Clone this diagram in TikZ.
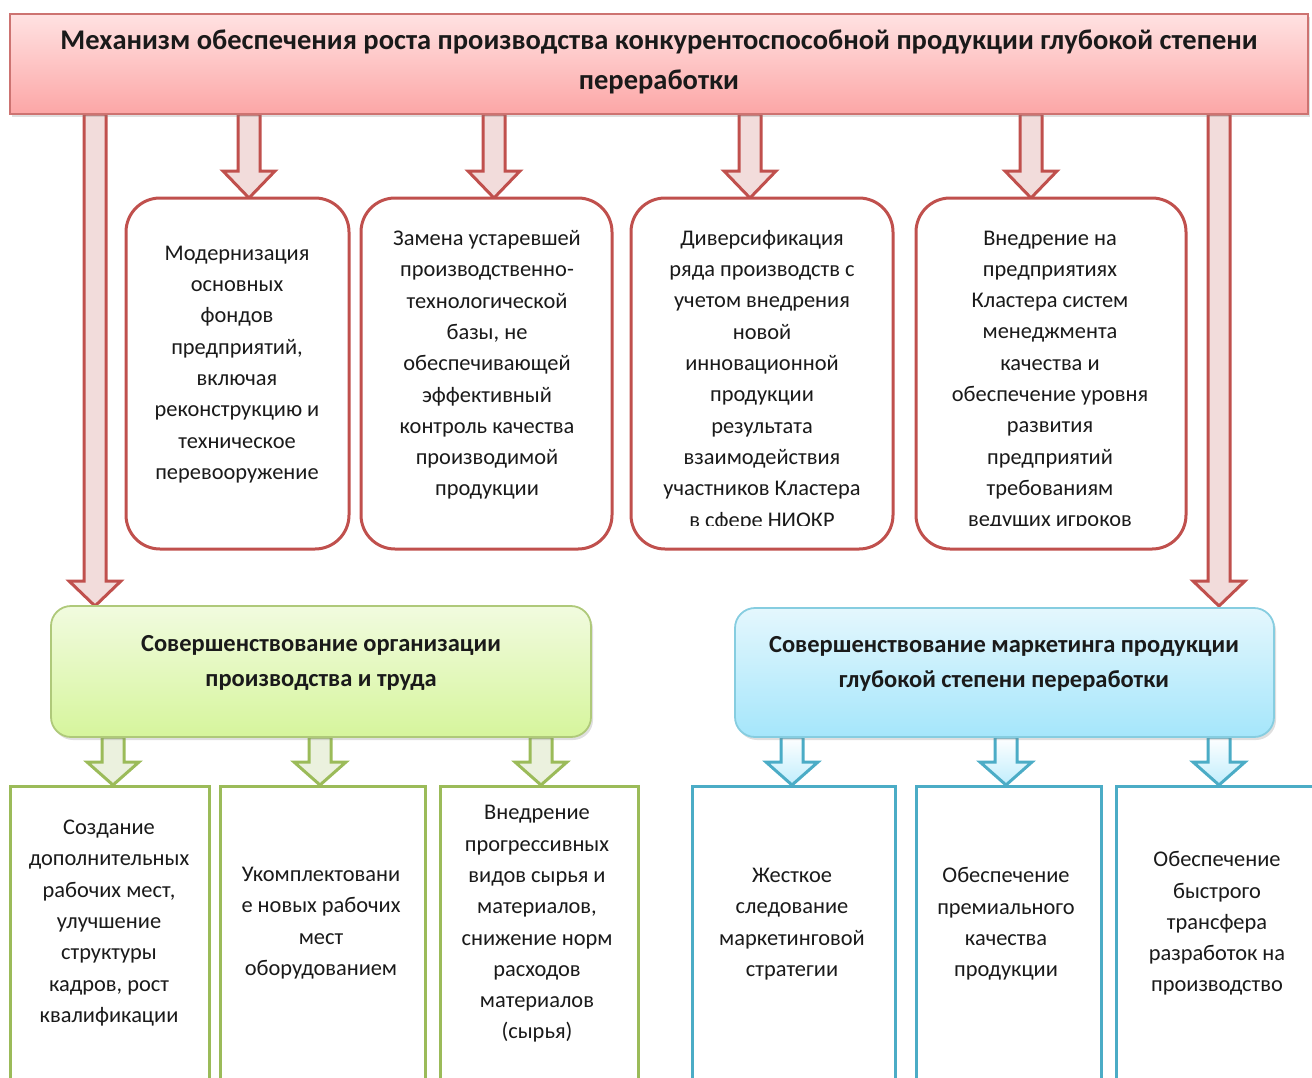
\documentclass[tikz,border=0pt]{standalone}
\usepackage{fontspec}
\setmainfont{Carlito}
\usetikzlibrary{calc,shadows}
\definecolor{redln}{HTML}{C0504D}
\definecolor{redar}{HTML}{F2DCDB}
\definecolor{redtop}{HTML}{FFE2E2}
\definecolor{redbot}{HTML}{FCA6A6}
\definecolor{grnln}{HTML}{9BBB59}
\definecolor{grnar}{HTML}{EBF1DE}
\definecolor{grntop}{HTML}{F1FBDF}
\definecolor{grnbot}{HTML}{D6F59C}
\definecolor{bluln}{HTML}{4BACC6}
\definecolor{blulnl}{HTML}{86CDE0}
\definecolor{blutop}{HTML}{E4F7FD}
\definecolor{blubot}{HTML}{A5E6FB}
\definecolor{txtc}{HTML}{1A1A1A}
\pgfdeclarelayer{bg}
\pgfsetlayers{bg,main}
\newcommand\blockarrow[4]{%
  \draw[#1] let \p1=(#2), \p2=(#3) in
  (\x2-11pt,\y1) -- (\x2-11pt,\y2+#4) -- (\x2-26pt,\y2+#4) -- (\x2,\y2)
  -- (\x2+26pt,\y2+#4) -- (\x2+11pt,\y2+#4) -- (\x2+11pt,\y1) -- cycle;}
\tikzset{
  every node/.style={inner sep=0pt, outer sep=0pt},
  shad/.style={drop shadow={opacity=0.25, shadow xshift=2pt, shadow yshift=-3pt}},
  titlebox/.style={draw=redln!80, line width=1.8pt, top color=redtop, bottom color=redbot, shad},
  redbox/.style={draw=redln, line width=3pt, rounded corners=34pt, fill=white},
  orgbox/.style={draw=grnln!80, line width=1.8pt, rounded corners=20pt, top color=grntop, bottom color=grnbot, shad},
  mktbox/.style={draw=blulnl, line width=1.8pt, rounded corners=20pt, top color=blutop, bottom color=blubot, shad},
  grnbox/.style={draw=grnln, line width=3pt, fill=white},
  blubox/.style={draw=bluln, line width=3pt, fill=white},
  redarrow/.style={draw=redln, line width=3pt, fill=redar, line join=miter},
  grnarrow/.style={draw=grnln, line width=3pt, fill=grnar, line join=miter},
  bluarrow/.style={draw=bluln, line width=3pt, top color=white, bottom color=blubot!70, line join=miter},
  txt/.style={align=center, text=txtc, font=\fontsize{22.4}{31.3}\selectfont},
  htxt/.style={align=center, text=txtc, font=\fontsize{24.5}{35}\selectfont\bfseries},
  ttxt/.style={align=center, text=txtc, font=\fontsize{28.5}{40}\selectfont\bfseries},
}
\begin{document}
\begin{tikzpicture}[x=1pt,y=-1pt]
\useasboundingbox (0,0) rectangle (1312,1077);
\clip (0,0) rectangle (1312,1077);
% title
\node[titlebox, minimum width=1298pt, minimum height=100pt] (title) at (659,64) {};
\node[ttxt] (titletext) at (659,62) {Механизм обеспечения роста производства конкурентоспособной продукции глубокой степени\\переработки};
% upper boxes
\node[redbox, minimum width=223pt, minimum height=351pt] (b1) at (237.5,373.5) {};
\node[redbox, minimum width=251pt, minimum height=351pt] (b2) at (486.5,373.5) {};
\node[redbox, minimum width=262pt, minimum height=351pt] (b3) at (762,373.5) {};
\node[redbox, minimum width=270pt, minimum height=351pt] (b4) at (1051,373.5) {};
\node[txt] (t1) at (237,364.5) {Модернизация\\основных\\фондов\\предприятий,\\включая\\реконструкцию и\\техническое\\перевооружение};
\node[txt] (t2) at (487,365) {Замена устаревшей\\производственно-\\технологической\\базы, не\\обеспечивающей\\эффективный\\контроль качества\\производимой\\продукции};
\begin{scope}
\clip (620,200) rectangle (1200,525);
\node[txt] (t3) at (762,380.5) {Диверсификация\\ряда производств с\\учетом внедрения\\новой\\инновационной\\продукции\\результата\\взаимодействия\\участников Кластера\\в сфере НИОКР};
\node[txt] (t4) at (1050,380.5) {Внедрение на\\предприятиях\\Кластера систем\\менеджмента\\качества и\\обеспечение уровня\\развития\\предприятий\\требованиям\\ведущих игроков};
\end{scope}
% middle boxes
\node[orgbox, minimum width=540pt, minimum height=131pt] (org) at (321,671.5) {};
\node[htxt] (orgtext) at (321,662.5) {Совершенствование организации\\производства и труда};
\node[mktbox, minimum width=539pt, minimum height=129pt] (mkt) at (1004.5,672.5) {};
\node[htxt] (mkttext) at (1004,664) {Совершенствование маркетинга продукции\\глубокой степени переработки};
% lower boxes
\node[grnbox, minimum width=199pt, minimum height=309pt] (g1) at (109.5,940.5) {};
\node[grnbox, minimum width=205pt, minimum height=309pt] (g2) at (322.5,940.5) {};
\node[grnbox, minimum width=198pt, minimum height=309pt] (g3) at (539,940.5) {};
\node[blubox, minimum width=203pt, minimum height=309pt] (c1) at (793.5,940.5) {};
\node[blubox, minimum width=185pt, minimum height=309pt] (c2) at (1008.5,940.5) {};
\node[blubox, minimum width=214pt, minimum height=309pt] (c3) at (1223,940.5) {};
\node[txt] (gt1) at (109,923) {Создание\\дополнительных\\рабочих мест,\\улучшение\\структуры\\кадров, рост\\квалификации};
\node[txt] (gt2) at (321,923) {Укомплектовани\\е новых рабочих\\мест\\оборудованием};
\node[txt] (gt3) at (537,924) {Внедрение\\прогрессивных\\видов сырья и\\материалов,\\снижение норм\\расходов\\материалов\\(сырья)};
\node[txt] (ct1) at (792,924) {Жесткое\\следование\\маркетинговой\\стратегии};
\node[txt] (ct2) at (1006,924) {Обеспечение\\премиального\\качества\\продукции};
\node[txt] (ct3) at (1217,923.5) {Обеспечение\\быстрого\\трансфера\\разработок на\\производство};
% arrow tips
\coordinate (a1) at (249,198);
\coordinate (a2) at (494,198);
\coordinate (a3) at (750,198);
\coordinate (a4) at (1031,198);
\coordinate (la) at (95,606);
\coordinate (ra) at (1219,606);
\coordinate (ga1) at (113,785);
\coordinate (ga2) at (320,785);
\coordinate (ga3) at (541,785);
\coordinate (ba1) at (792,785);
\coordinate (ba2) at (1006,785);
\coordinate (ba3) at (1219,785);
\begin{pgfonlayer}{bg}
\blockarrow{redarrow}{title.south -| a1}{a1}{27pt}
\blockarrow{redarrow}{title.south -| a2}{a2}{27pt}
\blockarrow{redarrow}{title.south -| a3}{a3}{27pt}
\blockarrow{redarrow}{title.south -| a4}{a4}{27pt}
\blockarrow{redarrow}{title.south -| la}{la}{25pt}
\blockarrow{redarrow}{title.south -| ra}{ra}{25pt}
\blockarrow{grnarrow}{org.south -| ga1}{ga1}{23pt}
\blockarrow{grnarrow}{org.south -| ga2}{ga2}{23pt}
\blockarrow{grnarrow}{org.south -| ga3}{ga3}{23pt}
\blockarrow{bluarrow}{mkt.south -| ba1}{ba1}{23pt}
\blockarrow{bluarrow}{mkt.south -| ba2}{ba2}{23pt}
\blockarrow{bluarrow}{mkt.south -| ba3}{ba3}{23pt}
\end{pgfonlayer}
\end{tikzpicture}
\end{document}
